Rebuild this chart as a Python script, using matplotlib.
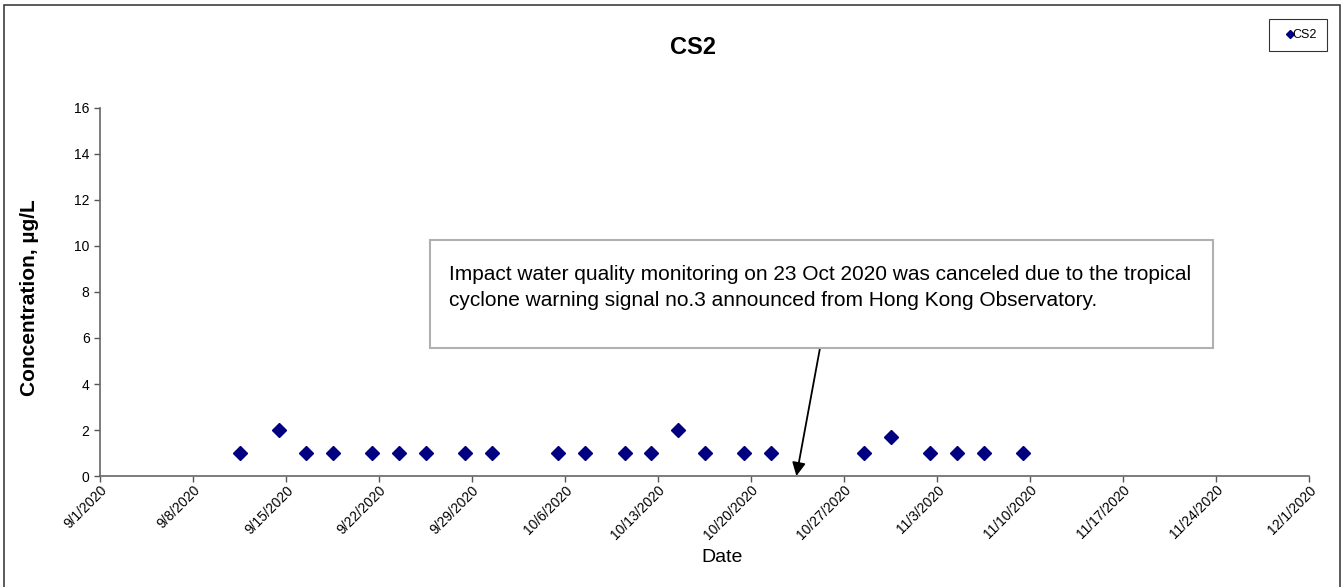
import datetime as dt
import matplotlib
matplotlib.use("Agg")
import matplotlib.pyplot as plt
from matplotlib.patches import Rectangle

# sampling dates (CS2) and concentrations
dates = ["2020-09-11", "2020-09-14", "2020-09-16", "2020-09-18", "2020-09-21",
         "2020-09-23", "2020-09-25", "2020-09-28", "2020-09-30", "2020-10-05",
         "2020-10-07", "2020-10-10", "2020-10-12", "2020-10-14", "2020-10-16",
         "2020-10-19", "2020-10-21", "2020-10-28", "2020-10-30", "2020-11-02",
         "2020-11-04", "2020-11-06", "2020-11-09"]
conc = [1, 2, 1, 1, 1, 1, 1, 1, 1, 1, 1, 1, 1, 2, 1, 1, 1, 1, 1.7, 1, 1, 1, 1]

x_start = dt.datetime(2020, 9, 1)
x_end = dt.datetime(2020, 12, 1)
cancel_day = dt.datetime(2020, 10, 23, 10)
note = ("Impact water quality monitoring on 23 Oct 2020 was canceled due to the tropical\n"
        "cyclone warning signal no.3 announced from Hong Kong Observatory.")

plt.rcParams['font.family'] = ['Liberation Sans', 'DejaVu Sans']

x = [dt.datetime.strptime(d, "%Y-%m-%d") + dt.timedelta(hours=12) for d in dates]

fig = plt.figure(figsize=(13.44, 5.87), dpi=100)
ax = fig.add_axes([100 / 1344, 1 - 476 / 587, 1209 / 1344, 368 / 587])

# outer chart border
fig.patches.append(Rectangle((4 / 1344, -0.05), 1336 / 1344, 1 - 5 / 587 + 0.05,
                             transform=fig.transFigure, fill=False,
                             edgecolor="#404040", linewidth=1.2))

ax.plot(x, conc, linestyle="none", marker="D", markersize=7.2,
        color="#000080", label="CS2")

ax.set_xlim(x_start, x_end)
ax.set_ylim(0, 16)
ax.set_yticks(range(0, 17, 2))
ticks = [x_start + dt.timedelta(days=7 * i) for i in range(14)]
ax.set_xticks(ticks)
ax.set_xticklabels([f"{t.month}/{t.day}/{t.year}" for t in ticks],
                   rotation=45, ha="right", va="top", rotation_mode="anchor",
                   fontsize=10)
ax.tick_params(axis="x", pad=1)
ax.tick_params(axis="y", labelsize=10)
ax.tick_params(direction="out", length=4, color="#555555", width=1)

for s in ["top", "right"]:
    ax.spines[s].set_visible(False)
for s in ["left", "bottom"]:
    ax.spines[s].set_color("#666666")
    ax.spines[s].set_linewidth(1.2)

fig.text(693 / 1344, 1 - 47 / 587, "CS2", fontsize=17, fontweight="bold",
         ha="center", va="center")
fig.text(30 / 1344, 1 - 298 / 587, "Concentration, µg/L", fontsize=15,
         fontweight="bold", rotation=90, ha="center", va="center")
fig.text(722 / 1344, 1 - 558 / 587, "Date", fontsize=14, ha="center", va="center")

# note box with arrow to cancelled date
fig.patches.append(Rectangle((430 / 1344, 1 - 348 / 587), 783 / 1344, 108 / 587,
                             transform=fig.transFigure, facecolor="white",
                             edgecolor="#b0b0b0", linewidth=1.5))
fig.text(449 / 1344, 1 - 265 / 587, note, fontsize=15, ha="left", va="top",
         linespacing=1.45)
ax.annotate("", xy=(cancel_day, 0), xycoords="data",
            xytext=(820 / 1344, 1 - 348 / 587), textcoords="figure fraction",
            arrowprops=dict(arrowstyle="-|>", color="black", lw=1.3,
                            mutation_scale=20, shrinkA=0, shrinkB=0))

leg = ax.legend(loc="upper right", bbox_to_anchor=(1327 / 1344, 1 - 19 / 587),
                bbox_transform=fig.transFigure, fontsize=9, frameon=True,
                fancybox=False, handlelength=1.7, handletextpad=-0.6,
                borderpad=0.8, borderaxespad=0, markerscale=0.6)
leg.get_frame().set_edgecolor("black")
leg.get_frame().set_linewidth(0.8)

fig.savefig("out.png", dpi=100)
